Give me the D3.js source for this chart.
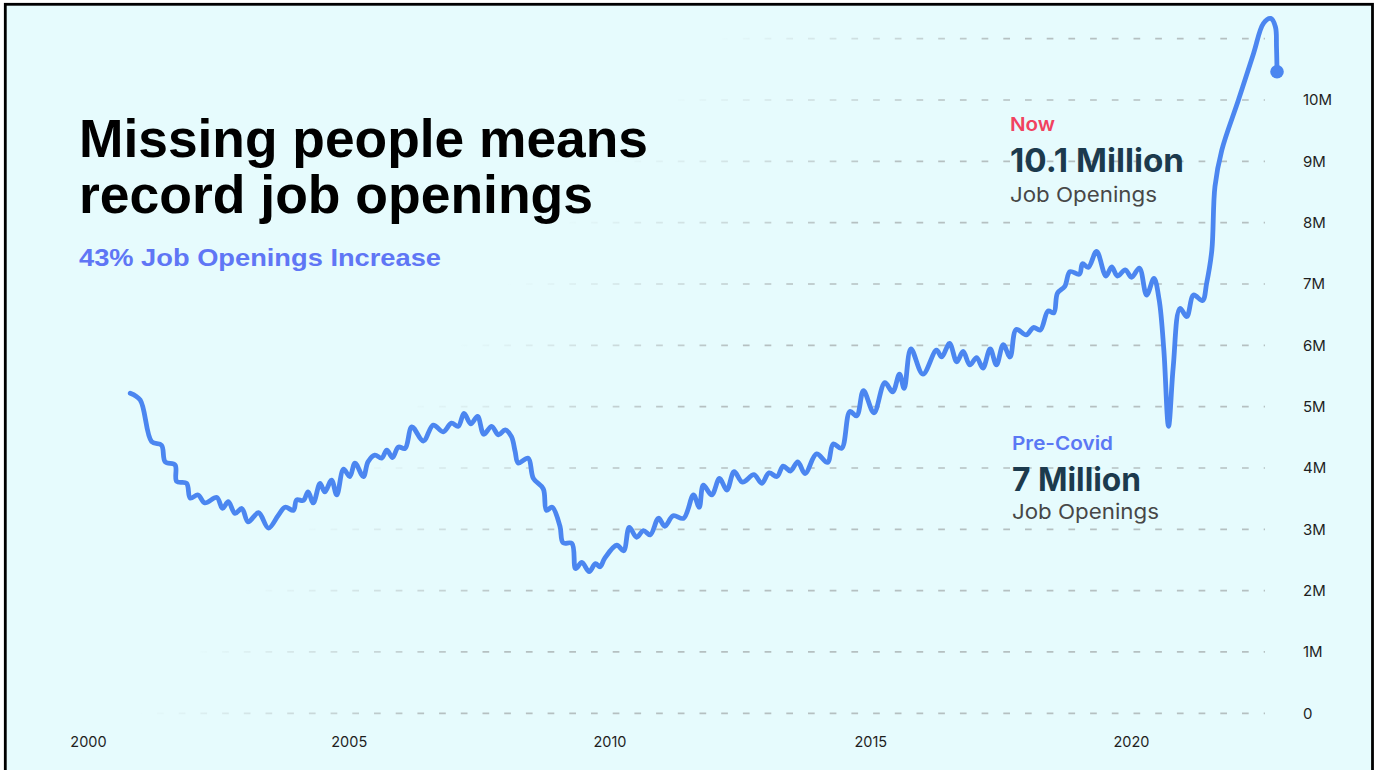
<!DOCTYPE html>
<html>
<head>
<meta charset="utf-8">
<script src="https://cdn.jsdelivr.net/npm/d3@7"></script>
<style>
  html, body { margin: 0; padding: 0; background: #ffffff; }
  svg { display: block; }
</style>
</head>
<body>
<svg id="chart" width="1376" height="770"></svg>
<script>
// Job openings (millions), sampled along the series as decimal years
const dates = [
  2000.81, 2001.00, 2001.22, 2001.41, 2001.48, 2001.67, 2001.70, 2001.89, 2001.96, 2002.11,
  2002.24, 2002.47, 2002.58, 2002.69, 2002.82, 2002.95, 2003.07, 2003.27, 2003.46, 2003.65,
  2003.78, 2003.94, 2004.00, 2004.13, 2004.22, 2004.32, 2004.45, 2004.54, 2004.67, 2004.77,
  2004.90, 2005.02, 2005.12, 2005.28, 2005.37, 2005.50, 2005.63, 2005.73, 2005.84, 2005.95,
  2006.08, 2006.21, 2006.43, 2006.62, 2006.81, 2006.97, 2007.10, 2007.21, 2007.34, 2007.47,
  2007.59, 2007.74, 2007.87, 2008.00, 2008.12, 2008.19, 2008.25, 2008.44, 2008.54, 2008.73,
  2008.79, 2008.90, 2009.05, 2009.11, 2009.28, 2009.35, 2009.47, 2009.61, 2009.73, 2009.82,
  2009.91, 2010.14, 2010.27, 2010.38, 2010.52, 2010.65, 2010.78, 2010.94, 2011.06, 2011.22,
  2011.42, 2011.61, 2011.72, 2011.80, 2011.96, 2012.11, 2012.25, 2012.39, 2012.55, 2012.77,
  2012.92, 2013.06, 2013.21, 2013.33, 2013.47, 2013.61, 2013.75, 2013.97, 2014.18, 2014.29,
  2014.45, 2014.61, 2014.74, 2014.87, 2015.07, 2015.28, 2015.43, 2015.56, 2015.65, 2015.78,
  2016.01, 2016.27, 2016.37, 2016.52, 2016.66, 2016.78, 2016.91, 2017.04, 2017.16, 2017.30,
  2017.42, 2017.55, 2017.68, 2017.80, 2017.99, 2018.13, 2018.26, 2018.41, 2018.52, 2018.59,
  2018.73, 2018.83, 2019.01, 2019.07, 2019.18, 2019.34, 2019.52, 2019.63, 2019.74, 2019.89,
  2020.01, 2020.16, 2020.30, 2020.44, 2020.54, 2020.63, 2020.72, 2020.81, 2020.94, 2021.07,
  2021.20, 2021.37, 2021.45, 2021.55, 2021.61, 2021.74, 2022.06, 2022.35, 2022.54, 2022.68,
  2022.77, 2022.79, 2022.80
];
const openings = [
  5.22, 5.11, 4.43, 4.37, 4.10, 4.05, 3.78, 3.75, 3.51, 3.56,
  3.43, 3.52, 3.34, 3.45, 3.26, 3.34, 3.12, 3.27, 3.02, 3.23,
  3.36, 3.31, 3.48, 3.47, 3.61, 3.43, 3.75, 3.61, 3.80, 3.56,
  3.98, 3.86, 4.08, 3.86, 4.10, 4.21, 4.16, 4.29, 4.17, 4.34,
  4.32, 4.67, 4.44, 4.70, 4.59, 4.73, 4.68, 4.89, 4.72, 4.84,
  4.55, 4.68, 4.54, 4.62, 4.51, 4.27, 4.08, 4.16, 3.83, 3.66,
  3.31, 3.36, 3.05, 2.78, 2.77, 2.36, 2.46, 2.31, 2.44, 2.39,
  2.53, 2.74, 2.65, 3.03, 2.87, 2.98, 2.91, 3.18, 3.05, 3.22,
  3.18, 3.56, 3.36, 3.72, 3.56, 3.83, 3.64, 3.94, 3.77, 3.89,
  3.75, 3.92, 3.86, 4.03, 3.95, 4.10, 3.91, 4.23, 4.09, 4.39,
  4.32, 4.92, 4.85, 5.26, 4.90, 5.39, 5.24, 5.53, 5.30, 5.94,
  5.53, 5.92, 5.81, 6.03, 5.73, 5.90, 5.68, 5.80, 5.63, 5.94,
  5.68, 6.01, 5.81, 6.26, 6.17, 6.29, 6.25, 6.56, 6.53, 6.85,
  6.96, 7.20, 7.16, 7.33, 7.27, 7.53, 7.13, 7.28, 7.13, 7.23,
  7.11, 7.26, 6.82, 7.09, 6.74, 5.92, 4.68, 5.65, 6.60, 6.47,
  6.82, 6.73, 7.01, 7.55, 8.59, 9.18, 10.00, 10.76, 11.25, 11.33,
  11.19, 10.86, 10.46
];

const yearTicks = [2000, 2005, 2010, 2015, 2020];
const valueTicks = [0, 1, 2, 3, 4, 5, 6, 7, 8, 9, 10, 11];
const valueLabelMax = 10;

const titleLines = ["Missing people means", "record job openings"];
const subtitle = "43% Job Openings Increase";
const callouts = [
  { tag: "Now", tagColor: "#f1425f", value: "10.1 Million", note: "Job Openings" },
  { tag: "Pre-Covid", tagColor: "#5b78f4", value: "7 Million", note: "Job Openings" }
];

const W = 1376, H = 770;
const svg = d3.select("#chart");

const x = d3.scaleLinear().domain([2000, 2020]).range([88, 1131]);
const y = d3.scaleLinear().domain([0, 10]).range([713.3, 100]);

const series = dates.map((d, i) => ({ year: d, value: openings[i] }));

// panel background and frame
svg.append("rect").attr("x", 0).attr("y", 0).attr("width", W).attr("height", H).attr("fill", "#ffffff");
svg.append("rect")
  .attr("x", 5.3).attr("y", 4.3).attr("width", 1367.2).attr("height", 800)
  .attr("fill", "#e6fbfd").attr("stroke", "#000").attr("stroke-width", 2.8);

// gridlines fade out toward the headline corner
const defs = svg.append("defs");
const fade = defs.append("linearGradient")
  .attr("id", "gridFade").attr("gradientUnits", "userSpaceOnUse")
  .attr("x1", 432).attr("y1", 372).attr("x2", 600).attr("y2", 516);
fade.append("stop").attr("offset", 0).attr("stop-color", "#b5c0c1").attr("stop-opacity", 0);
fade.append("stop").attr("offset", 1).attr("stop-color", "#b5c0c1").attr("stop-opacity", 1);

const gridLeft = 113.6, gridRight = 1265;
svg.append("g")
  .selectAll("line")
  .data(valueTicks)
  .join("line")
  .attr("x1", gridLeft).attr("x2", gridRight)
  .attr("y1", d => y(d)).attr("y2", d => y(d))
  .attr("stroke", "url(#gridFade)")
  .attr("stroke-width", 1.7)
  .attr("stroke-dasharray", "6.7 15");

// value labels on the right
const yAxis = d3.axisRight(y)
  .tickValues(valueTicks.filter(v => v <= valueLabelMax))
  .tickSize(0)
  .tickPadding(0)
  .tickFormat(v => v === 0 ? "0" : v + "M");
const gy = svg.append("g").attr("transform", "translate(1303,0)").call(yAxis);
gy.select(".domain").remove();
gy.selectAll(".tick text")
  .attr("fill", "#1f1f1f")
  .style("font-family", "Inter, 'Noto Sans', sans-serif")
  .style("font-size", "15px");

// year axis
const xAxis = d3.axisBottom(x)
  .tickValues(yearTicks)
  .tickSize(0)
  .tickPadding(23)
  .tickFormat(d3.format("d"));
const gx = svg.append("g").attr("transform", `translate(0,${y(0)})`).call(xAxis);
gx.select(".domain").remove();
gx.selectAll(".tick text")
  .attr("fill", "#1f1f1f")
  .style("font-family", "Inter, 'Noto Sans', sans-serif")
  .style("font-size", "14.5px");

// series line
const line = d3.line()
  .x(d => x(d.year))
  .y(d => y(d.value))
  .curve(d3.curveCatmullRom.alpha(0.5));

svg.append("path")
  .datum(series)
  .attr("d", line)
  .attr("fill", "none")
  .attr("stroke", "#4b86f0")
  .attr("stroke-width", 4.8)
  .attr("stroke-linecap", "round")
  .attr("stroke-linejoin", "round");

const last = series[series.length - 1];
svg.append("circle")
  .attr("cx", x(last.year)).attr("cy", y(last.value)).attr("r", 6.8)
  .attr("fill", "#4b86f0");

// headline
const head = svg.append("g").style("font-family", "'Liberation Sans', Arial, sans-serif");
head.selectAll("text.title")
  .data(titleLines)
  .join("text")
  .attr("class", "title")
  .attr("x", 79)
  .attr("y", (d, i) => 157 + i * 55.5)
  .attr("fill", "#000")
  .style("font-size", "53.5px")
  .style("font-weight", 700)
  .attr("textLength", (d, i) => [569, 514][i])
  .attr("lengthAdjust", "spacingAndGlyphs")
  .text(d => d);

head.append("text")
  .attr("x", 79).attr("y", 266)
  .attr("fill", "#5f76f5")
  .style("font-size", "24px")
  .style("font-weight", 700)
  .attr("textLength", 362)
  .attr("lengthAdjust", "spacingAndGlyphs")
  .text(subtitle);

// callouts
const calloutLayout = [
  { x: 1010, tagY: 130.7, valueY: 171.7, noteY: 201.7, tagW: 45, valueW: 174, noteW: 147 },
  { x: 1012, tagY: 450, valueY: 490.7, noteY: 519.3, tagW: 101, valueW: 129, noteW: 147 }
];
const cg = svg.append("g").style("font-family", "Inter, 'Noto Sans', sans-serif");
callouts.forEach((c, i) => {
  const L = calloutLayout[i];
  cg.append("text").attr("x", L.x).attr("y", L.tagY)
    .attr("fill", c.tagColor).style("font-size", "19px").style("font-weight", 600)
    .attr("textLength", L.tagW).attr("lengthAdjust", "spacingAndGlyphs")
    .text(c.tag);
  cg.append("text").attr("x", L.x).attr("y", L.valueY)
    .attr("fill", "#1c3a4d").style("font-size", "32.5px").style("font-weight", 700)
    .attr("textLength", L.valueW).attr("lengthAdjust", "spacingAndGlyphs")
    .text(c.value);
  cg.append("text").attr("x", L.x).attr("y", L.noteY)
    .attr("fill", "#474747").style("font-size", "20.5px").style("font-weight", 400)
    .attr("textLength", L.noteW).attr("lengthAdjust", "spacingAndGlyphs")
    .text(c.note);
});
</script>
</body>
</html>
